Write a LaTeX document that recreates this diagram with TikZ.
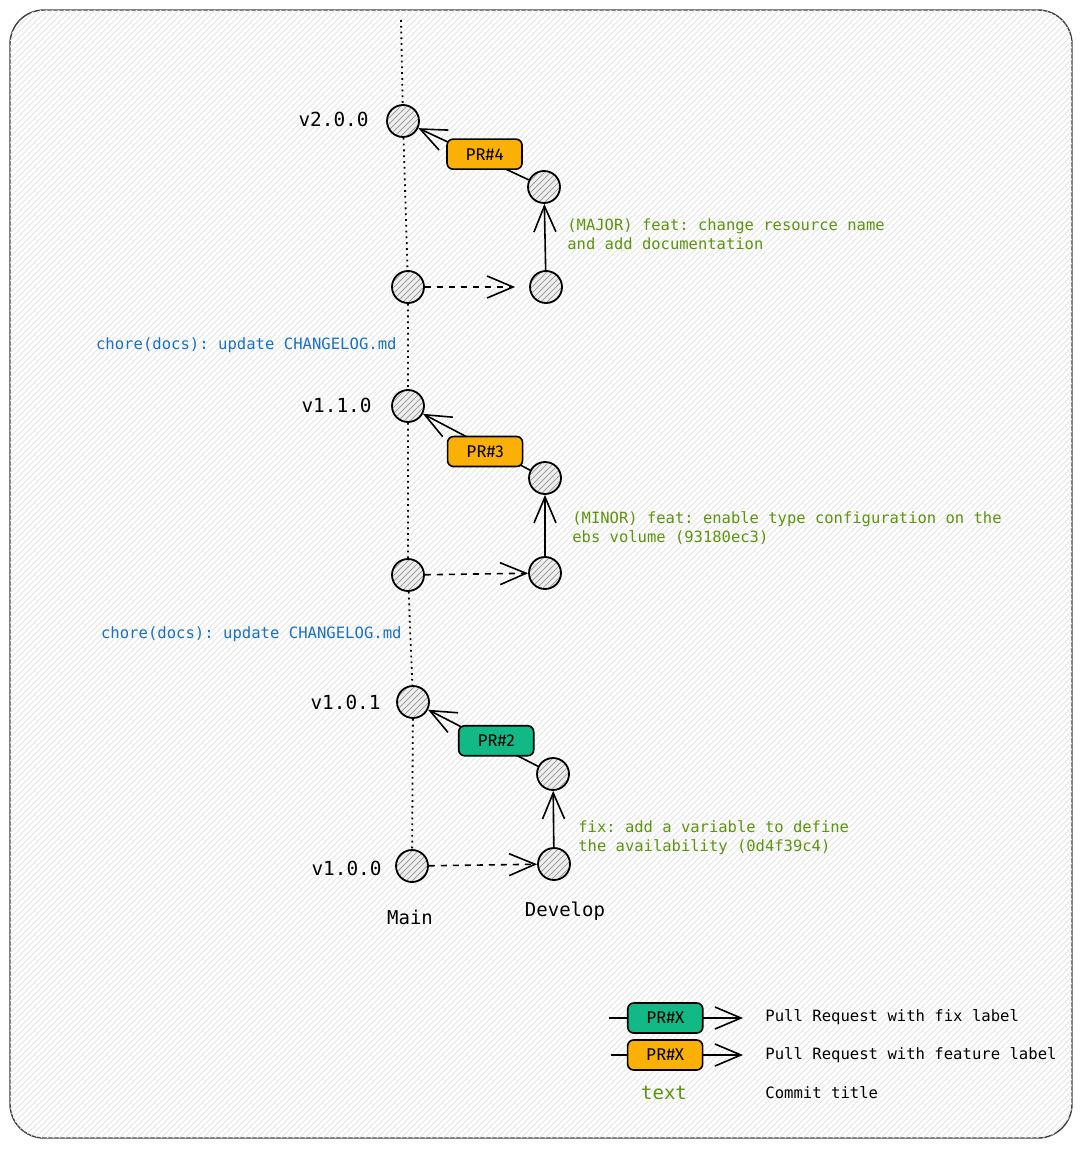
\documentclass[tikz,border=0pt]{standalone}
\usepackage{fontspec}
\setmainfont{Fira Sans}
\setmonofont{DejaVu Sans Mono}
\usetikzlibrary{arrows.meta,patterns}
\definecolor{fixgreen}{HTML}{12B886}
\definecolor{featorange}{HTML}{FAB005}
\definecolor{msggreen}{HTML}{5C940D}
\definecolor{choreblue}{HTML}{1971C2}
\begin{document}
\begin{tikzpicture}[x=0.5pt,y=-0.5pt]
\tikzstyle{commit}=[circle, draw=black, line width=0.9pt, minimum size=16pt, inner sep=0pt, preaction={fill=gray!12}, pattern=north east lines, pattern color=gray!75]
\tikzstyle{pr}=[draw=black, line width=0.8pt, rounded corners=3pt, minimum width=37.5pt, minimum height=15pt, inner sep=0pt, font=\fontsize{8.5}{10}\selectfont]
\tikzstyle{fix}=[pr, fill=fixgreen]
\tikzstyle{feat}=[pr, fill=featorange]
\tikzstyle{merge}=[-{Straight Barb[length=13pt,width=11pt]}, line width=0.8pt]
\tikzstyle{branch}=[merge, dashed]
\tikzstyle{msg}=[text=msggreen, inner sep=0pt, anchor=west, align=left, font=\ttfamily\fontsize{7.75}{9.5}\selectfont]
\tikzstyle{chore}=[text=choreblue, inner sep=0pt, anchor=east, font=\ttfamily\fontsize{7.8}{9.5}\selectfont]
\tikzstyle{tag}=[inner sep=0pt, anchor=east, font=\ttfamily\fontsize{9.7}{11}\selectfont]
\tikzstyle{legend}=[inner sep=0pt, anchor=west, font=\ttfamily\fontsize{7.8}{9.5}\selectfont]
\useasboundingbox (0,0) rectangle (1082,1149);
\draw [draw=black!75, line width=0.7pt, rounded corners=17pt, fill=white, postaction={pattern=north east lines, pattern color=gray!22}] (10,10) rectangle (1072,1138);
\node [commit] (v200) at (403,121) {};
\node [commit] (m3) at (408,287) {};
\node [commit] (v110) at (408,406) {};
\node [commit] (m2) at (408,575) {};
\node [commit] (v101) at (413,702) {};
\node [commit] (v100) at (412,866) {};
\node [commit] (d4) at (544,187) {};
\node [commit] (d3) at (546,287) {};
\node [commit] (d2) at (545,478) {};
\node [commit] (d1) at (545,573) {};
\node [commit] (d0b) at (553,774) {};
\node [commit] (d0) at (554,864) {};
\coordinate (top) at (401,20);
\draw [dotted, line width=0.9pt] (top) -- (v200) -- (m3) -- (v110) -- (m2) -- (v101) -- (v100);
\node [tag] (t200) at (369,119) {v2.0.0};
\node [tag] (t110) at (372,405) {v1.1.0};
\node [tag] (t101) at (381,702) {v1.0.1};
\node [tag] (t100) at (382,868) {v1.0.0};
\node [font=\ttfamily\fontsize{9.5}{11}\selectfont] (main) at (410,917) {Main};
\node [font=\ttfamily\fontsize{9.5}{11}\selectfont] (develop) at (565,911) {Develop};
\draw [branch, shorten >=7pt] (m3) -- (d3);
\draw [branch] (m2) -- (d1);
\draw [branch] (v100) -- (d0);
\draw [merge] (d3) -- (d4);
\draw [merge] (d1) -- (d2);
\draw [merge] (d0) -- (d0b);
\draw [merge] (d4) -- node [feat, pos=0.4, yshift=2.5pt] (pr4) {PR\#4} (v200);
\draw [merge] (d2) -- node [feat, pos=0.42, yshift=-2.5pt] (pr3) {PR\#3} (v110);
\draw [merge] (d0b) -- node [fix, pos=0.38, yshift=2pt] (pr2) {PR\#2} (v101);
\node [msg] (c4) at (567,234.5) {(MAJOR) feat: change resource name\\and add documentation};
\node [msg] (c3) at (572,528.5) {(MINOR) feat: enable type configuration on the\\ebs volume (93180ec3)};
\node [msg] (c2) at (578,837.5) {fix: add a variable to define\\the availability (0d4f39c4)};
\node [chore] (ch3) at (397,345) {chore(docs): update CHANGELOG.md};
\node [chore] (ch2) at (402,634) {chore(docs): update CHANGELOG.md};
\coordinate (lfixa) at (609,1018);
\coordinate (lfixb) at (743,1018);
\coordinate (lfeata) at (611,1055);
\coordinate (lfeatb) at (743,1055);
\draw [merge] (lfixa) -- node [fix, pos=0.42] (lfix) {PR\#X} (lfixb);
\draw [merge] (lfeata) -- node [feat, pos=0.41] (lfeat) {PR\#X} (lfeatb);
\node [legend] (lfixt) at (765,1017) {Pull Request with fix label};
\node [legend] (lfeatt) at (765,1055) {Pull Request with feature label};
\node [text=msggreen, font=\ttfamily\fontsize{9.5}{11}\selectfont] (ltext) at (664,1093) {text};
\node [legend] (lmsgt) at (765,1093) {Commit title};
\end{tikzpicture}
\end{document}
